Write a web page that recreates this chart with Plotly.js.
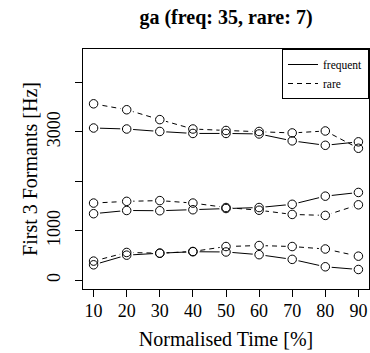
<!DOCTYPE html>
<html><head><meta charset="utf-8">
<script src="https://cdn.plot.ly/plotly-3.0.1.min.js"></script>
<style>html,body{margin:0;padding:0;background:#fff}#chart{width:370px;height:353px}</style>
</head><body><div id="chart"></div>
<script>
// Data
const time = [10, 20, 30, 40, 50, 60, 70, 80, 90];
const freqF1 = [310, 505, 545, 575, 570, 515, 420, 270, 215];
const freqF2 = [1345, 1410, 1405, 1425, 1450, 1470, 1535, 1700, 1775];
const freqF3 = [3080, 3060, 3010, 2970, 2970, 2960, 2820, 2730, 2800];
const rareF1 = [385, 560, 545, 580, 680, 700, 680, 630, 485];
const rareF2 = [1560, 1595, 1610, 1560, 1470, 1415, 1330, 1310, 1525];
const rareF3 = [3570, 3450, 3250, 3060, 3030, 3010, 2980, 3020, 2670];
const yTickVals = [0, 1000, 2000, 3000, 4000];
const yTickText = ["0", "1000", "", "3000", ""];
const groupNames = ["frequent", "rare"];
const chartTitle = "ga (freq: 35, rare: 7)";
const xTitle = "Normalised Time [%]";
const yTitle = "First 3 Formants [Hz]";

const series = [
  {y: freqF1, g: 0, leg: true},
  {y: rareF1, g: 1, leg: true},
  {y: freqF2, g: 0, leg: false},
  {y: rareF2, g: 1, leg: false},
  {y: freqF3, g: 0, leg: false},
  {y: rareF3, g: 1, leg: false}
];

const traces = [];
series.forEach(s => {
  traces.push({
    x: time, y: s.y, type: 'scatter', mode: 'lines',
    name: groupNames[s.g], legendgroup: groupNames[s.g], showlegend: s.leg,
    line: {color: 'black', width: 1, dash: s.g === 1 ? '5px,4px' : 'solid'},
    hoverinfo: 'skip'
  });
});
series.forEach(s => {
  traces.push({
    x: time, y: s.y, type: 'scatter', mode: 'markers', showlegend: false,
    marker: {size: 13, color: 'white', line: {width: 0}}, hoverinfo: 'skip'
  });
});
series.forEach(s => {
  traces.push({
    x: time, y: s.y, type: 'scatter', mode: 'markers', showlegend: false,
    marker: {size: 8.5, symbol: 'circle-open', color: 'black', line: {width: 1, color: 'black'}},
    hoverinfo: 'skip'
  });
});

const font = "'Liberation Serif', serif";
const layout = {
  width: 370, height: 353,
  margin: {l: 83, r: 1, t: 49, b: 64, pad: 0},
  paper_bgcolor: 'white', plot_bgcolor: 'white',
  font: {family: font, color: 'black', size: 18},
  showlegend: true,
  title: {text: '<b>' + chartTitle + '</b>', font: {family: font, size: 20, color: 'black'},
          x: 0.5, xref: 'paper', y: 1 - 17/353, yref: 'container', yanchor: 'middle'},
  xaxis: {
    range: [6.8, 93.2], tickvals: time, ticktext: time.map(String),
    ticks: 'outside', ticklen: 7, tickcolor: 'black', tickwidth: 1,
    showline: true, mirror: true, linecolor: 'black', linewidth: 1,
    showgrid: false, zeroline: false, ticklabelstandoff: -2,
    tickfont: {family: font, size: 18, color: 'black'},
    title: {text: xTitle, font: {family: font, size: 20, color: 'black'}, standoff: 12}
  },
  yaxis: {
    range: [-180, 4680], tickvals: yTickVals, ticktext: yTickText, tickangle: -90,
    ticks: 'outside', ticklen: 7, tickcolor: 'black', tickwidth: 1,
    showline: true, mirror: true, linecolor: 'black', linewidth: 1,
    showgrid: false, zeroline: false, ticklabelstandoff: 8,
    tickfont: {family: font, size: 18, color: 'black'},
    title: {text: yTitle, font: {family: font, size: 20, color: 'black'}, standoff: 0}
  },
  legend: {
    x: 1, y: 1, xref: 'paper', yref: 'paper', xanchor: 'right', yanchor: 'top',
    bordercolor: 'black', borderwidth: 1, bgcolor: 'white',
    font: {family: font, size: 11.5, color: 'black'},
    itemwidth: 30, tracegroupgap: 0
  }
};

Plotly.newPlot('chart', traces, layout, {staticPlot: true, displayModeBar: false});
</script>
</body></html>
